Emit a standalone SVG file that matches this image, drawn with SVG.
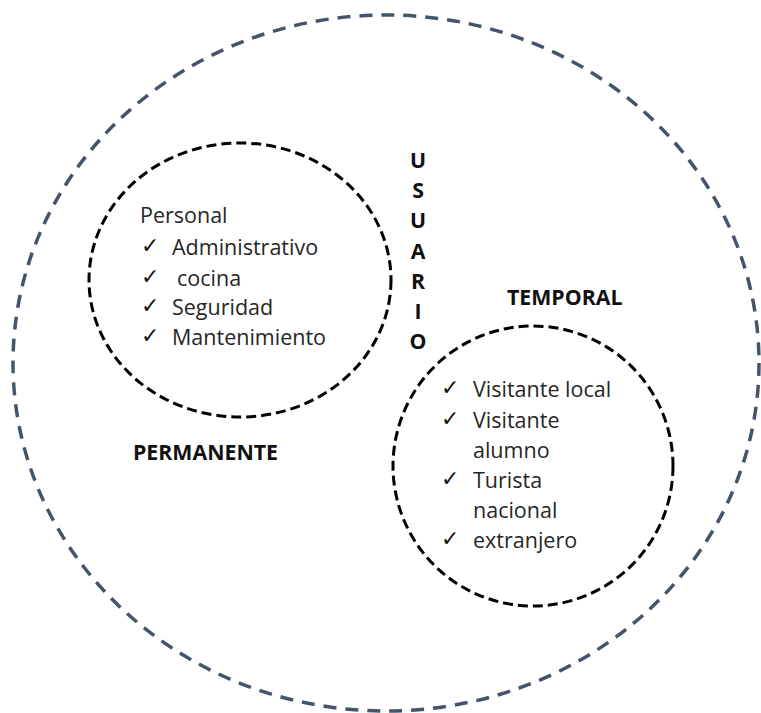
<svg xmlns="http://www.w3.org/2000/svg" width="761" height="713" viewBox="0 0 761 713">
<style>
.outer{fill:none;stroke:#44546A;stroke-width:3.5;stroke-dasharray:13 9}
.inner{fill:none;stroke:#000;stroke-width:3;stroke-dasharray:10 5}
.t{font-family:"Open Sans","Liberation Sans",sans-serif;font-size:21.5px;fill:#262626}
.b{font-family:"Open Sans","Liberation Sans",sans-serif;font-size:21.3px;font-weight:bold;fill:#111}
.ck{font-family:"DejaVu Sans",sans-serif;font-size:22px;fill:#111}
</style>
<rect width="761" height="713" fill="#fff"/>
<g id="usuario">
<ellipse class="outer" cx="386" cy="363" rx="373" ry="348"/>
<g class="b" text-anchor="middle">
<text x="418" y="168">U</text>
<text x="418" y="198">S</text>
<text x="418" y="228">U</text>
<text x="418" y="259">A</text>
<text x="418" y="289">R</text>
<text x="418" y="319">I</text>
<text x="418" y="349">O</text>
</g>
</g>
<g id="permanente">
<ellipse class="inner" cx="240" cy="280" rx="151" ry="137"/>
<text class="t" x="140" y="223">Personal</text>
<text class="ck" x="141" y="253">✓</text><text class="t" x="172" y="255">Administrativo</text>
<text class="ck" x="141" y="284">✓</text><text class="t" x="177" y="286">cocina</text>
<text class="ck" x="141" y="313">✓</text><text class="t" x="172" y="315">Seguridad</text>
<text class="ck" x="141" y="343">✓</text><text class="t" x="172" y="345">Mantenimiento</text>
<text class="b" x="133" y="460">PERMANENTE</text>
</g>
<g id="temporal">
<ellipse class="inner" cx="533" cy="466" rx="140" ry="140"/>
<text class="b" x="507" y="305">TEMPORAL</text>
<text class="ck" x="441" y="395">✓</text><text class="t" x="473" y="397">Visitante local</text>
<text class="ck" x="441" y="426">✓</text><text class="t" x="473" y="428">Visitante</text>
<text class="t" x="473" y="458">alumno</text>
<text class="ck" x="441" y="486">✓</text><text class="t" x="473" y="488">Turista</text>
<text class="t" x="473" y="518">nacional</text>
<text class="ck" x="441" y="546">✓</text><text class="t" x="473" y="548">extranjero</text>
</g>
<g id="connectors"/>
</svg>
